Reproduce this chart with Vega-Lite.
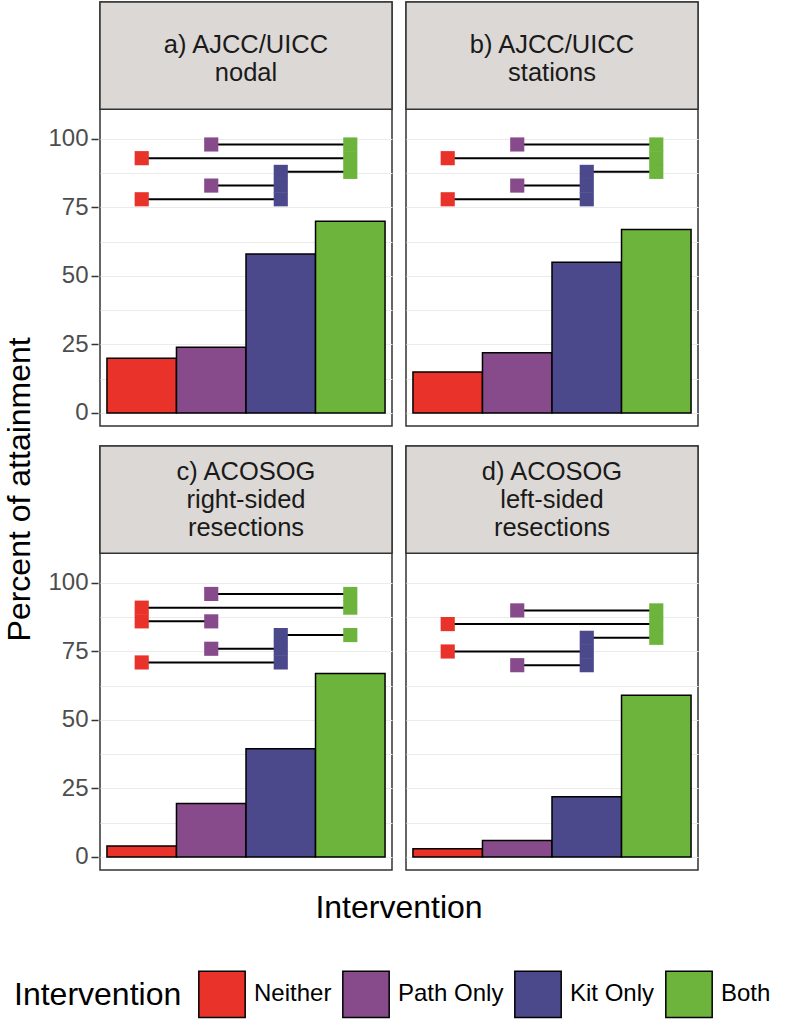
{
  "$schema": "https://vega.github.io/schema/vega-lite/v6.json",
  "padding": {"left": 3, "top": 0, "right": 0, "bottom": 0},
  "data": {
    "values": [
      {"kind": "strip", "row": "1", "col": "1", "label": "a) AJCC/UICC\nnodal"},
      {"kind": "strip", "row": "1", "col": "2", "label": "b) AJCC/UICC\nstations"},
      {"kind": "strip", "row": "2", "col": "1", "label": "c) ACOSOG\nright-sided\nresections"},
      {"kind": "strip", "row": "2", "col": "2", "label": "d) ACOSOG\nleft-sided\nresections"},
      {"kind": "bar", "row": "1", "col": "1", "cat": "Neither", "pct": 20},
      {"kind": "bar", "row": "1", "col": "1", "cat": "Path Only", "pct": 24},
      {"kind": "bar", "row": "1", "col": "1", "cat": "Kit Only", "pct": 58},
      {"kind": "bar", "row": "1", "col": "1", "cat": "Both", "pct": 70},
      {"kind": "bar", "row": "1", "col": "2", "cat": "Neither", "pct": 15},
      {"kind": "bar", "row": "1", "col": "2", "cat": "Path Only", "pct": 22},
      {"kind": "bar", "row": "1", "col": "2", "cat": "Kit Only", "pct": 55},
      {"kind": "bar", "row": "1", "col": "2", "cat": "Both", "pct": 67},
      {"kind": "bar", "row": "2", "col": "1", "cat": "Neither", "pct": 4},
      {"kind": "bar", "row": "2", "col": "1", "cat": "Path Only", "pct": 19.5},
      {"kind": "bar", "row": "2", "col": "1", "cat": "Kit Only", "pct": 39.5},
      {"kind": "bar", "row": "2", "col": "1", "cat": "Both", "pct": 67},
      {"kind": "bar", "row": "2", "col": "2", "cat": "Neither", "pct": 3},
      {"kind": "bar", "row": "2", "col": "2", "cat": "Path Only", "pct": 6},
      {"kind": "bar", "row": "2", "col": "2", "cat": "Kit Only", "pct": 22},
      {"kind": "bar", "row": "2", "col": "2", "cat": "Both", "pct": 59},
      {"kind": "cmp", "row": "1", "col": "1", "from": "Path Only", "to": "Both", "y": 98},
      {"kind": "cmp", "row": "1", "col": "1", "from": "Neither", "to": "Both", "y": 93},
      {"kind": "cmp", "row": "1", "col": "1", "from": "Kit Only", "to": "Both", "y": 88},
      {"kind": "cmp", "row": "1", "col": "1", "from": "Path Only", "to": "Kit Only", "y": 83},
      {"kind": "cmp", "row": "1", "col": "1", "from": "Neither", "to": "Kit Only", "y": 78},
      {"kind": "cmp", "row": "1", "col": "2", "from": "Path Only", "to": "Both", "y": 98},
      {"kind": "cmp", "row": "1", "col": "2", "from": "Neither", "to": "Both", "y": 93},
      {"kind": "cmp", "row": "1", "col": "2", "from": "Kit Only", "to": "Both", "y": 88},
      {"kind": "cmp", "row": "1", "col": "2", "from": "Path Only", "to": "Kit Only", "y": 83},
      {"kind": "cmp", "row": "1", "col": "2", "from": "Neither", "to": "Kit Only", "y": 78},
      {"kind": "cmp", "row": "2", "col": "1", "from": "Path Only", "to": "Both", "y": 96},
      {"kind": "cmp", "row": "2", "col": "1", "from": "Neither", "to": "Both", "y": 91},
      {"kind": "cmp", "row": "2", "col": "1", "from": "Neither", "to": "Path Only", "y": 86},
      {"kind": "cmp", "row": "2", "col": "1", "from": "Kit Only", "to": "Both", "y": 81},
      {"kind": "cmp", "row": "2", "col": "1", "from": "Path Only", "to": "Kit Only", "y": 76},
      {"kind": "cmp", "row": "2", "col": "1", "from": "Neither", "to": "Kit Only", "y": 71},
      {"kind": "cmp", "row": "2", "col": "2", "from": "Path Only", "to": "Both", "y": 90},
      {"kind": "cmp", "row": "2", "col": "2", "from": "Neither", "to": "Both", "y": 85},
      {"kind": "cmp", "row": "2", "col": "2", "from": "Kit Only", "to": "Both", "y": 80},
      {"kind": "cmp", "row": "2", "col": "2", "from": "Neither", "to": "Kit Only", "y": 75},
      {"kind": "cmp", "row": "2", "col": "2", "from": "Path Only", "to": "Kit Only", "y": 70}
    ]
  },
  "facet": {
    "row": {"field": "row", "type": "nominal", "title": "Percent of attainment\u00a0\u00a0\u00a0\u00a0\u00a0\u00a0\u00a0\u00a0\u00a0\u00a0\u00a0\u00a0\u200b",
            "header": {"labels": false, "titleFontSize": 32, "titleFontWeight": "normal", "titleColor": "black", "titlePadding": 0}},
    "column": {"field": "col", "type": "nominal", "title": "Intervention",
               "header": {"labels": false, "titleOrient": "bottom", "titleFontSize": 32, "titleFontWeight": "normal", "titleColor": "black", "titlePadding": 12}}
  },
  "spacing": {"row": 17, "column": 10},
  "spec": {
    "width": 292,
    "height": 424,
    "layer": [
      {
        "transform": [{"filter": "datum.kind === 'strip'"}],
        "mark": {"type": "rect", "fill": "#DCD8D5", "stroke": "#333333", "strokeWidth": 1.5},
        "encoding": {
          "x": {"value": 0},
          "x2": {"value": "width"},
          "y": {"datum": 110.9, "type": "quantitative", "scale": {"domain": [-4.75, 150], "nice": false, "zero": false}},
          "y2": {"datum": 150}
        }
      },
      {
        "transform": [{"filter": "datum.kind === 'strip' && length(split(datum.label, '\\n')) === 2"}],
        "mark": {"type": "text", "fontSize": 25.5, "lineHeight": 28, "lineBreak": "\n", "baseline": "alphabetic", "align": "center", "color": "#1A1A1A"},
        "encoding": {
          "y": {"datum": 131.4, "type": "quantitative"},
          "text": {"field": "label"}
        }
      },
      {
        "transform": [{"filter": "datum.kind === 'strip' && length(split(datum.label, '\\n')) === 3"}],
        "mark": {"type": "text", "fontSize": 25.5, "lineHeight": 28, "lineBreak": "\n", "baseline": "alphabetic", "align": "center", "color": "#1A1A1A"},
        "encoding": {
          "y": {"datum": 137.6, "type": "quantitative"},
          "text": {"field": "label"}
        }
      },
      {
        "transform": [{"filter": "datum.kind === 'bar'"}],
        "mark": {"type": "bar", "stroke": "black", "strokeWidth": 1.5},
        "encoding": {
          "x": {"field": "cat", "type": "nominal", "title": null,
                "scale": {"domain": ["Neither", "Path Only", "Kit Only", "Both"], "paddingInner": 0, "paddingOuter": 0.1},
                "axis": {"labels": false, "ticks": false, "domain": false, "grid": false}},
          "y": {"field": "pct", "type": "quantitative", "title": null,
                "axis": {"values": [0, 12.5, 25, 37.5, 50, 62.5, 75, 87.5, 100],
                         "labelExpr": "datum.value % 25 === 0 ? datum.label : ''",
                         "tickOpacity": {"condition": {"test": "datum.value % 25 === 0", "value": 1}, "value": 0},
                         "grid": true, "gridColor": "#EBEBEB", "gridWidth": 1.2,
                         "domain": false, "tickColor": "#333333", "tickWidth": 1.5, "tickSize": 7,
                         "labelFontSize": 24, "labelColor": "#4D4D4D", "labelPadding": 3}},
          "y2": {"datum": 0},
          "color": {"field": "cat", "type": "nominal", "title": "Intervention",
                    "scale": {"domain": ["Neither", "Path Only", "Kit Only", "Both"], "range": ["#E8322A", "#874B8C", "#4B488C", "#6DB43C"]},
                    "legend": {"orient": "none", "legendX": -86, "legendY": 968, "direction": "horizontal", "columns": 4, "titleOrient": "left", "symbolType": "square", "symbolSize": 2150,
                               "symbolStrokeColor": "black", "symbolStrokeWidth": 1.5, "symbolOpacity": 1,
                               "titleFontSize": 32, "titleFontWeight": "normal", "titleColor": "black", "titlePadding": 16, "titleBaseline": "middle",
                               "labelFontSize": 24, "labelColor": "black", "labelOffset": 8, "columnPadding": 7}}
        }
      },
      {
        "transform": [{"filter": "datum.kind === 'cmp'"}],
        "mark": {"type": "rule", "color": "black", "strokeWidth": 2},
        "encoding": {
          "x": {"field": "from", "type": "nominal"},
          "x2": {"field": "to"},
          "y": {"field": "y", "type": "quantitative"}
        }
      },
      {
        "transform": [{"filter": "datum.kind === 'cmp'"}, {"fold": ["from", "to"], "as": ["end", "pt"]}],
        "mark": {"type": "point", "shape": "square", "filled": true, "size": 200, "opacity": 1, "strokeWidth": 0},
        "encoding": {
          "x": {"field": "pt", "type": "nominal"},
          "y": {"field": "y", "type": "quantitative"},
          "color": {"field": "pt", "type": "nominal", "legend": null}
        }
      }
    ]
  },
  "config": {
    "font": "Liberation Sans",
    "view": {"stroke": "#333333", "strokeWidth": 1.5}
  }
}
